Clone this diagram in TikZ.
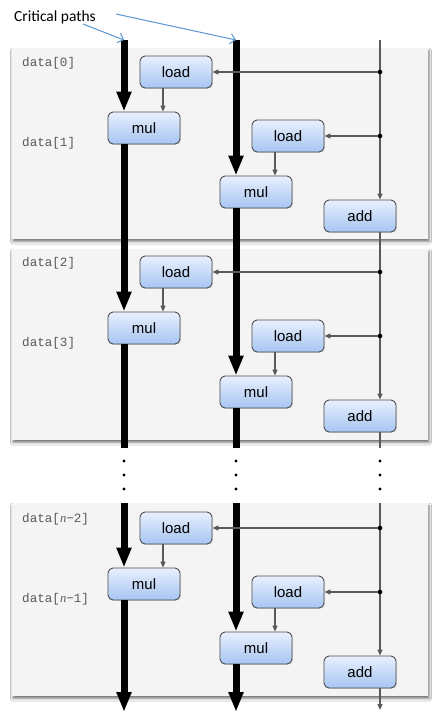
\documentclass[tikz,border=0pt]{standalone}
\usepackage{fontspec}
\setmainfont{Liberation Sans}
\newfontfamily\codefont{Liberation Mono}
\newfontfamily\notefont{Carlito}
\newfontfamily\varfont{Liberation Serif}
\usetikzlibrary{arrows.meta,shadows,shadows.blur}

\definecolor{panelbg}{HTML}{F4F4F4}
\definecolor{boxtop}{HTML}{E8F0FC}
\definecolor{boxbot}{HTML}{A6C4F2}
\definecolor{boxline}{HTML}{4A4A4A}
\definecolor{wire}{HTML}{5A5A5A}
\definecolor{note}{HTML}{5B95D3}
\definecolor{labelgray}{HTML}{5A5A5A}

\tikzset{
  panel/.style={fill=panelbg,
    blur shadow={shadow xshift=1pt, shadow yshift=-2.5pt,
                 shadow blur radius=2.5pt, shadow opacity=55}},
  opbox/.style={rounded corners=5pt, draw=boxline, line width=0.9pt,
    top color=boxtop, bottom color=boxbot,
    minimum width=72pt, minimum height=32pt, inner sep=0pt,
    font=\fontsize{15}{18}\selectfont,
    drop shadow={shadow xshift=0.8pt, shadow yshift=-0.8pt, opacity=0.25}},
  datalbl/.style={anchor=west, inner sep=0pt, text=labelgray,
    font=\codefont\fontsize{12.6}{14}\selectfont},
  crit/.style={line width=7pt, black},
  critarrow/.style={crit, -{Triangle[length=20pt,width=14pt]}},
  wirearrow/.style={draw=wire, line width=1.3pt,
    -{Triangle[length=6pt,width=5pt]}},
  wireline/.style={draw=wire, line width=1.3pt},
  notearrow/.style={draw=note, line width=1pt,
    -{Straight Barb[length=5pt,width=10pt]}},
}

\begin{document}
\begin{tikzpicture}[x=1pt,y=-1pt]
\useasboundingbox (0,0) rectangle (440,718);
\fill[white] (0,0) rectangle (440,718);

% iteration panels
\path[panel] (12,48)  rectangle (428,239);
\path[panel] (12,249) rectangle (428,440);
\path[panel] (12,503) rectangle (428,696);

% operations of each pair of iterations
\foreach \k/\dy in {a/0,b/200,c/456} {
  \begin{scope}[shift={(0,\dy)}]
    \node[opbox] (ldA-\k) at (176,72)  {load};
    \node[opbox] (muA-\k) at (144,128) {mul};
    \node[opbox] (ldB-\k) at (288,136) {load};
    \node[opbox] (muB-\k) at (256,192) {mul};
    \node[opbox] (ad-\k)  at (360,216) {add};
    \coordinate (jA-\k) at (380,72);
    \coordinate (jB-\k) at (380,136);
  \end{scope}
}

% element labels
\node[datalbl] (d0) at (22,63)  {data[0]};
\node[datalbl] (d1) at (22,143) {data[1]};
\node[datalbl] (d2) at (22,263) {data[2]};
\node[datalbl] (d3) at (22,343) {data[3]};
\node[datalbl] (dn2) at (22,519) {data[{\varfont\itshape n}−2]};
\node[datalbl] (dn1) at (22,599) {data[{\varfont\itshape n}−1]};

% end points of the vertical chains
\coordinate (cA-top) at (124,40);
\coordinate (cA-gap1) at (124,448);
\coordinate (cA-gap2) at (124,503);
\coordinate (cA-end) at (124,712);
\coordinate (cB-top) at (236,40);
\coordinate (cB-gap1) at (236,448);
\coordinate (cB-gap2) at (236,503);
\coordinate (cB-end) at (236,712);
\coordinate (cR-top) at (380,40);
\coordinate (cR-gap1) at (380,448);
\coordinate (cR-gap2) at (380,503);
\coordinate (cR-end) at (380,710);

% first multiplication chain
\draw[critarrow] (cA-top) -- (cA-top |- muA-a.north);
\draw[critarrow] (muA-a.south -| cA-top) -- (muA-b.north -| cA-top);
\draw[crit] (muA-b.south -| cA-top) -- (cA-gap1);
\draw[critarrow] (cA-gap2) -- (cA-gap2 |- muA-c.north);
\draw[critarrow] (muA-c.south -| cA-top) -- (cA-end);

% second multiplication chain
\draw[critarrow] (cB-top) -- (cB-top |- muB-a.north);
\draw[critarrow] (muB-a.south -| cB-top) -- (muB-b.north -| cB-top);
\draw[crit] (muB-b.south -| cB-top) -- (cB-gap1);
\draw[critarrow] (cB-gap2) -- (cB-gap2 |- muB-c.north);
\draw[critarrow] (muB-c.south -| cB-top) -- (cB-end);

% index / addition chain
\draw[wirearrow] (cR-top) -- (cR-top |- ad-a.north);
\draw[wirearrow] (ad-a.south -| cR-top) -- (ad-b.north -| cR-top);
\draw[wireline] (ad-b.south -| cR-top) -- (cR-gap1);
\draw[wirearrow] (cR-gap2) -- (cR-gap2 |- ad-c.north);
\draw[wirearrow] (ad-c.south -| cR-top) -- (cR-end);

% loads fed from the index chain, and feeding the multiplies
\foreach \k in {a,b,c} {
  \draw[wirearrow] (jA-\k) -- (ldA-\k.east);
  \draw[wirearrow] (jB-\k) -- (ldB-\k.east);
  \fill (jA-\k) circle (2.3pt);
  \fill (jB-\k) circle (2.3pt);
  \draw[wirearrow] ([xshift=-13pt]ldA-\k.south) -- ([xshift=-13pt]ldA-\k.south |- muA-\k.north);
  \draw[wirearrow] ([xshift=-13pt]ldB-\k.south) -- ([xshift=-13pt]ldB-\k.south |- muB-\k.north);
}

% elision dots
\foreach \x in {124,236,380}
  \foreach \y in {461,475,489}
    \fill (\x,\y) circle (1.6pt);

% annotation
\node[anchor=base west, inner sep=0pt, font=\notefont\fontsize{15.5}{18}\selectfont]
  (cp) at (14,21) {Critical paths};
\coordinate (cpA-from) at (83,24);
\coordinate (cpB-from) at (116,14);
\draw[notearrow] (cpA-from) -- (cA-top);
\draw[notearrow] (cpB-from) -- (cB-top);
\end{tikzpicture}
\end{document}
